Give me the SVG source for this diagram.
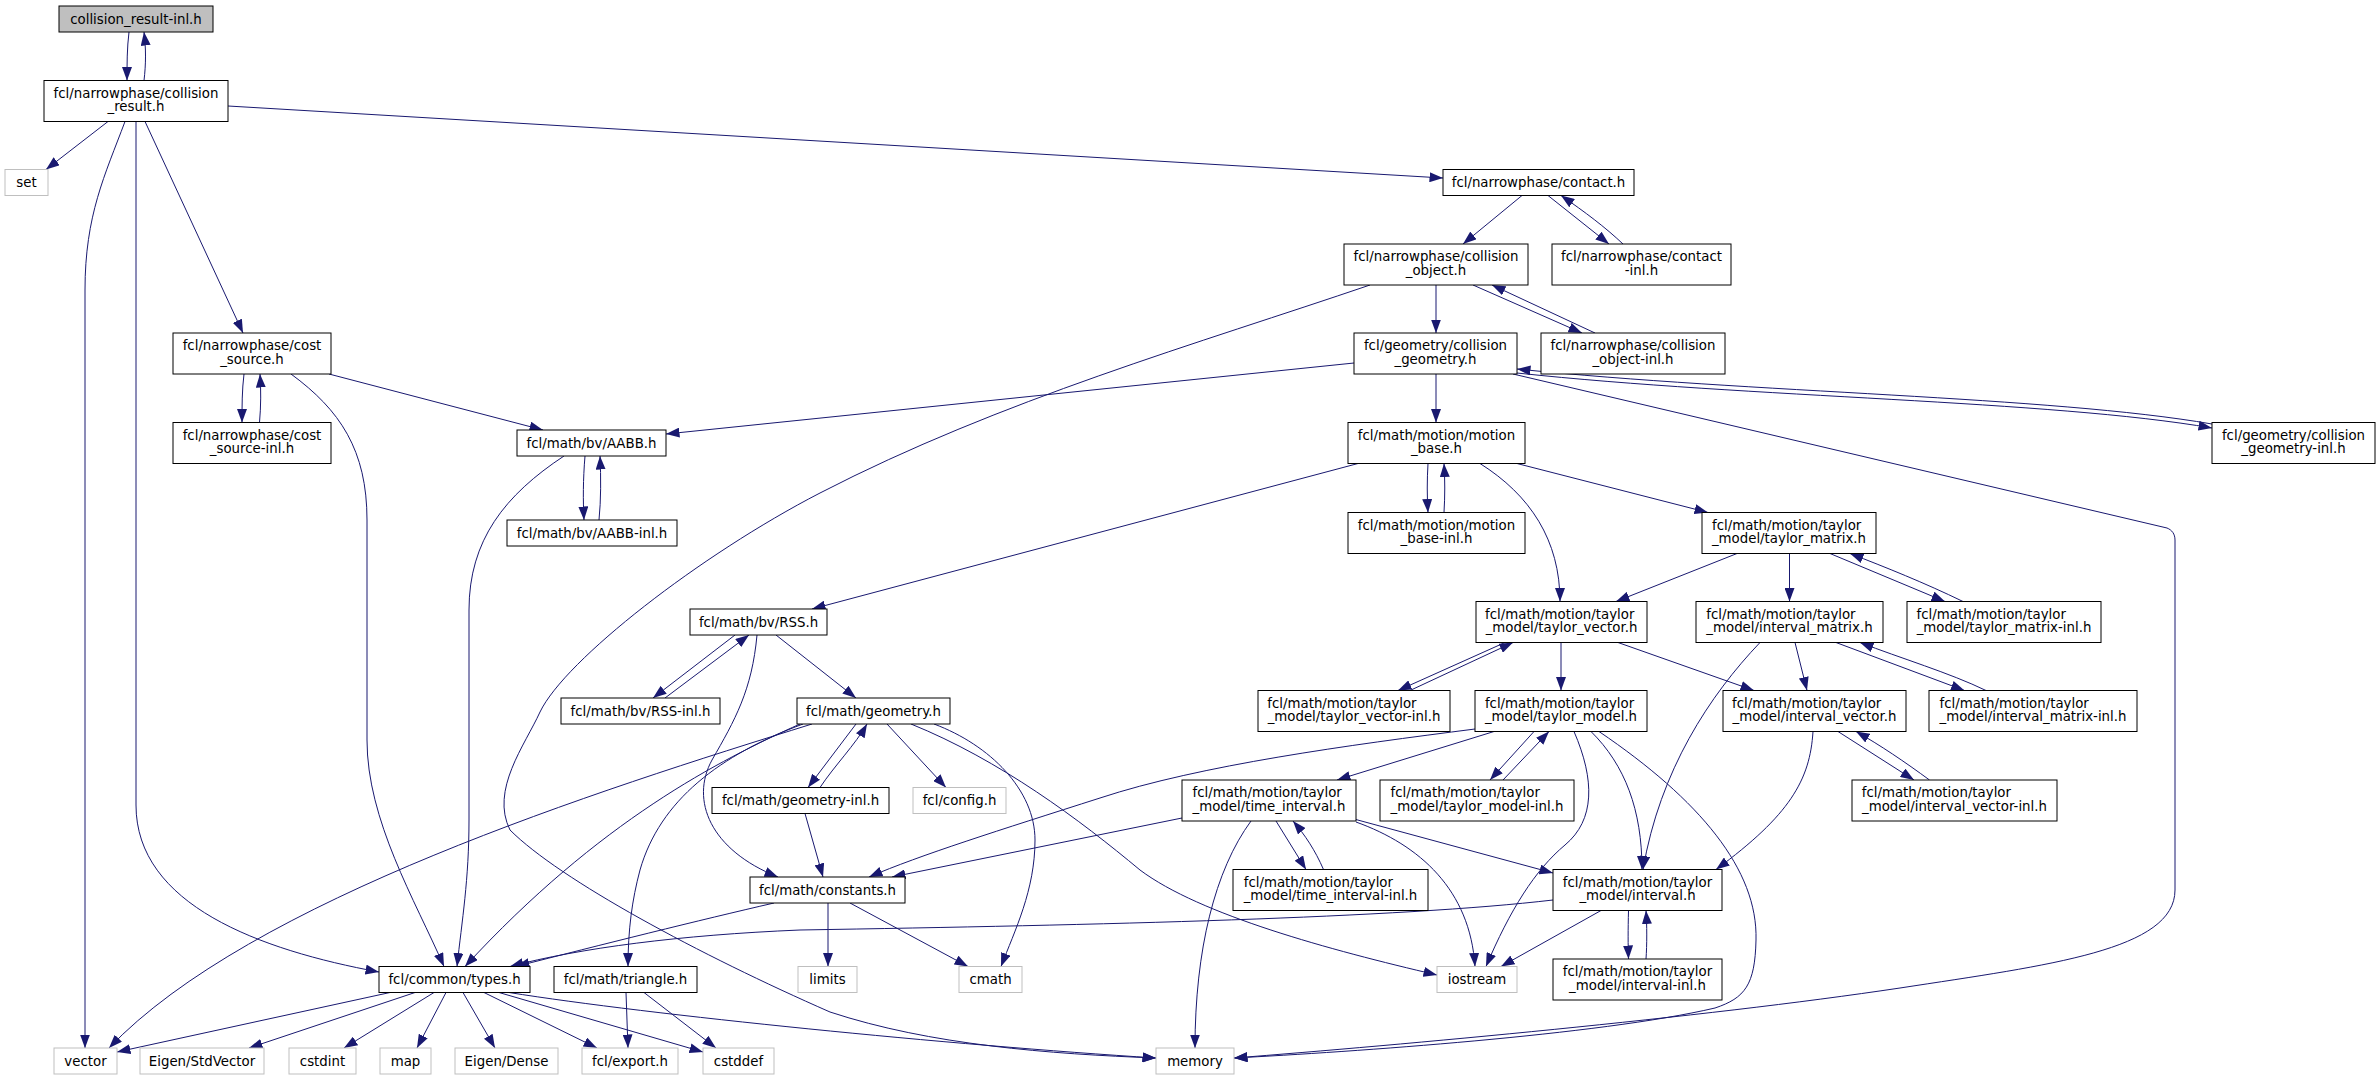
<svg xmlns="http://www.w3.org/2000/svg" width="2380" height="1080" viewBox="0 0 2380 1080">
<defs>
<style>
.node rect{fill:#ffffff;stroke:#000000;stroke-width:1}
.grey rect{stroke:#bfbfbf}
.top rect{fill:#bfbfbf}
text{font-family:"DejaVu Sans","Liberation Sans",sans-serif;font-size:13.33px;fill:#000000}
.c{text-anchor:middle}
.edges path{fill:none;stroke:#191970;stroke-width:1;marker-end:url(#ah)}
</style>
<marker id="ah" viewBox="0 0 14 10" refX="13.5" refY="5" markerWidth="14" markerHeight="10" markerUnits="userSpaceOnUse" orient="auto"><path d="M0,0 L13.5,5 L0,10 z" fill="#191970" stroke="none"/></marker>
</defs>
<rect x="0" y="0" width="2380" height="1080" fill="#ffffff"/>
<g class="edges">
<path d="M129,32 C127,48 127,64 127,80.5"/>
<path d="M144,80.5 C146,64 146,48 144,32"/>
<path d="M108,121.5 L46,169.5"/>
<path d="M125,121.5 C105,175 85,215 85,290 L85,1048"/>
<path d="M136,121.5 L136,805 C136,905 260,950 379,972"/>
<path d="M145,121.5 L243,333"/>
<path d="M228,106 L1443,178"/>
<path d="M1522,195.5 L1463,244"/>
<path d="M1548,195.5 L1609,244"/>
<path d="M1623,244 C1605,227 1585,212 1561,195.5"/>
<path d="M1436,285 L1436,333"/>
<path d="M1473,285 L1582,333"/>
<path d="M1595,333 L1492,285"/>
<path d="M1370,285 C1200,343 1000,400 820,493 C700,555 565,660 540,712 C525,745 490,790 510,830 C560,880 700,955 830,1012 C930,1045 1050,1054 1156,1058"/>
<path d="M1354,363 L666,434"/>
<path d="M1436,374 L1436,422.5"/>
<path d="M1517,373 C1750,398 2050,400 2212,428"/>
<path d="M2212,424 C2050,396 1750,393 1517,369"/>
<path d="M1513,374 L2167,528 C2172,530 2175,534 2175,540 L2175,890 C2175,950 2050,965 1900,988 C1700,1018 1400,1045 1234,1058"/>
<path d="M1358,463.5 L812,609"/>
<path d="M1428,463.5 C1427,480 1427,496 1428,512.5"/>
<path d="M1444,512.5 C1445,496 1445,480 1444,463.5"/>
<path d="M1480,463.5 C1530,495 1560,540 1560,601.5"/>
<path d="M1517,463.5 L1708,512.5"/>
<path d="M1737,553.5 L1616,601.5"/>
<path d="M1789.5,553.5 L1789.5,601.5"/>
<path d="M1830,553.5 L1945,601.5"/>
<path d="M1963,601.5 C1925,583 1885,567 1850,553.5"/>
<path d="M1795,642.5 L1807,690.5"/>
<path d="M1836,642.5 L1964.5,690.5"/>
<path d="M1986,690.5 C1950,673 1900,658 1860,642.5"/>
<path d="M1760,642.5 C1710,695 1660,770 1643,869.5"/>
<path d="M1838,731.5 L1914,780"/>
<path d="M1929.5,780 C1905,762 1880,745 1856,731.5"/>
<path d="M1813,731.5 C1810,780 1790,815 1716,869.5"/>
<path d="M1505,642.5 L1398,690.5"/>
<path d="M1410,690.5 L1513,642.5"/>
<path d="M1561,642.5 L1561,690.5"/>
<path d="M1618,642.5 L1754,690.5"/>
<path d="M1494,731.5 L1337,780"/>
<path d="M1534,731.5 L1490,780"/>
<path d="M1503,780 L1549,731.5"/>
<path d="M1574,731.5 C1595,780 1595,820 1565,845 C1535,870 1510,910 1486,966.5"/>
<path d="M1591,731.5 C1625,765 1642,810 1642,869.5"/>
<path d="M1599,731.5 C1700,800 1758,870 1756,940 C1755,985 1745,998 1715,1008 C1600,1035 1350,1052 1234,1058"/>
<path d="M1475,729 C1350,745 1200,765 1100,798 C1000,830 920,855 869,877"/>
<path d="M1182,818 L892,877"/>
<path d="M1276,821 L1306,869.5"/>
<path d="M1323.5,869.5 C1315,850 1305,835 1293,821"/>
<path d="M1356,822 C1420,845 1470,890 1475,966.5"/>
<path d="M1354,819 L1553,873"/>
<path d="M1251,821 C1215,870 1195,950 1195,1048"/>
<path d="M1553,900 C1400,918 1100,925 800,930 C680,935 580,948 510,966.5"/>
<path d="M1601,910.5 L1501,966.5"/>
<path d="M1628.5,910.5 C1628,930 1628,945 1628.5,959"/>
<path d="M1646,959 C1647,945 1647,925 1646,910.5"/>
<path d="M774,903 C700,920 600,945 516,966.5"/>
<path d="M828,903 L828,966.5"/>
<path d="M850,903 L968,966.5"/>
<path d="M805,813.5 L823,877"/>
<path d="M626,992.5 L628,1048"/>
<path d="M644,992.5 L716,1048"/>
<path d="M390,992.5 L117,1052"/>
<path d="M415,992.5 L249,1048"/>
<path d="M434,992.5 L344,1048"/>
<path d="M446,992.5 L417,1048"/>
<path d="M463,992.5 L495,1048"/>
<path d="M484,992.5 L597,1048"/>
<path d="M499,992.5 L703,1052"/>
<path d="M509,992.5 C650,1015 950,1045 1156,1058"/>
<path d="M735,635 L653,698"/>
<path d="M665,698 L749,635"/>
<path d="M776,635 L856,698"/>
<path d="M757,635 C752,690 735,720 712,760 C690,800 710,850 778,877"/>
<path d="M856,724 L808,787.5"/>
<path d="M820,787.5 C835,765 855,745 867,724"/>
<path d="M887,724 L946,787.5"/>
<path d="M934,724 C990,745 1035,790 1035,840 C1035,890 1015,930 1001,966.5"/>
<path d="M911,724 C1000,760 1080,820 1140,870 C1200,915 1330,950 1437,975"/>
<path d="M803,724 C720,755 660,800 640,870 C632,900 628,930 628,966.5"/>
<path d="M800,724 C720,760 600,820 465,966.5"/>
<path d="M812,724 C600,790 250,900 109,1048"/>
<path d="M585,456 C583,480 583,500 584,520"/>
<path d="M599,520 C601,500 601,478 600,456"/>
<path d="M564,456 C505,495 469,540 469,610 L469,820 C469,880 462,920 457,966.5"/>
<path d="M244,374 C242,390 242,406 242,422.5"/>
<path d="M259.5,422.5 C261,406 261,390 260,374"/>
<path d="M329,374 L543,430"/>
<path d="M291,374 C340,410 367,450 367,520 L367,740 C367,820 415,900 444,966.5"/>
</g>
<g id="n1" class="node top"><rect x="59" y="6" width="154" height="26"/><text class="c" x="136" y="23.5">collision_result-inl.h</text></g>
<g id="n2" class="node"><rect x="44" y="80.5" width="184" height="41"/><text class="c" x="136" y="97.5">fcl/narrowphase/collision</text><text class="c" x="136" y="111.3">_result.h</text></g>
<g id="n3" class="node grey"><rect x="5" y="169.5" width="43" height="26"/><text class="c" x="26.5" y="187">set</text></g>
<g id="n4" class="node"><rect x="1443" y="169.5" width="191" height="26"/><text class="c" x="1538.5" y="187">fcl/narrowphase/contact.h</text></g>
<g id="n5" class="node"><rect x="1344" y="244" width="184" height="41"/><text class="c" x="1436" y="261">fcl/narrowphase/collision</text><text class="c" x="1436" y="274.8">_object.h</text></g>
<g id="n6" class="node"><rect x="1552" y="244" width="179" height="41"/><text class="c" x="1641.5" y="261">fcl/narrowphase/contact</text><text class="c" x="1641.5" y="274.8">-inl.h</text></g>
<g id="n7" class="node"><rect x="173" y="333" width="158" height="41"/><text class="c" x="252" y="350">fcl/narrowphase/cost</text><text class="c" x="252" y="363.8">_source.h</text></g>
<g id="n8" class="node"><rect x="1354" y="333" width="163" height="41"/><text class="c" x="1435.5" y="350">fcl/geometry/collision</text><text class="c" x="1435.5" y="363.8">_geometry.h</text></g>
<g id="n9" class="node"><rect x="1541" y="333" width="184" height="41"/><text class="c" x="1633" y="350">fcl/narrowphase/collision</text><text class="c" x="1633" y="363.8">_object-inl.h</text></g>
<g id="n10" class="node"><rect x="173" y="422.5" width="158" height="41"/><text class="c" x="252" y="439.5">fcl/narrowphase/cost</text><text class="c" x="252" y="453.3">_source-inl.h</text></g>
<g id="n11" class="node"><rect x="517" y="430" width="149" height="26"/><text class="c" x="591.5" y="447.5">fcl/math/bv/AABB.h</text></g>
<g id="n12" class="node"><rect x="1348" y="422.5" width="177" height="41"/><text class="c" x="1436.5" y="439.5">fcl/math/motion/motion</text><text class="c" x="1436.5" y="453.3">_base.h</text></g>
<g id="n13" class="node"><rect x="2212" y="422.5" width="163" height="41"/><text class="c" x="2293.5" y="439.5">fcl/geometry/collision</text><text class="c" x="2293.5" y="453.3">_geometry-inl.h</text></g>
<g id="n14" class="node"><rect x="507" y="520" width="170" height="26"/><text class="c" x="592" y="537.5">fcl/math/bv/AABB-inl.h</text></g>
<g id="n15" class="node"><rect x="1348" y="512.5" width="177" height="41"/><text class="c" x="1436.5" y="529.5">fcl/math/motion/motion</text><text class="c" x="1436.5" y="543.3">_base-inl.h</text></g>
<g id="n16" class="node"><rect x="1702" y="512.5" width="174" height="41"/><text x="1712" y="529.5">fcl/math/motion/taylor</text><text class="c" x="1789" y="543.3">_model/taylor_matrix.h</text></g>
<g id="n17" class="node"><rect x="690" y="609" width="137" height="26"/><text class="c" x="758.5" y="626.5">fcl/math/bv/RSS.h</text></g>
<g id="n18" class="node"><rect x="1476" y="601.5" width="171" height="41"/><text x="1485.1" y="618.5">fcl/math/motion/taylor</text><text class="c" x="1561.5" y="632.3">_model/taylor_vector.h</text></g>
<g id="n19" class="node"><rect x="1696" y="601.5" width="187" height="41"/><text x="1706.3" y="618.5">fcl/math/motion/taylor</text><text class="c" x="1789.5" y="632.3">_model/interval_matrix.h</text></g>
<g id="n20" class="node"><rect x="1907" y="601.5" width="194" height="41"/><text x="1916.6" y="618.5">fcl/math/motion/taylor</text><text class="c" x="2004" y="632.3">_model/taylor_matrix-inl.h</text></g>
<g id="n21" class="node"><rect x="561" y="698" width="159" height="26"/><text class="c" x="640.5" y="715.5">fcl/math/bv/RSS-inl.h</text></g>
<g id="n22" class="node"><rect x="797" y="698" width="153" height="26"/><text class="c" x="873.5" y="715.5">fcl/math/geometry.h</text></g>
<g id="n23" class="node"><rect x="1258" y="690.5" width="192" height="41"/><text x="1267.3" y="707.5">fcl/math/motion/taylor</text><text class="c" x="1354" y="721.3">_model/taylor_vector-inl.h</text></g>
<g id="n24" class="node"><rect x="1475" y="690.5" width="172" height="41"/><text x="1484.9" y="707.5">fcl/math/motion/taylor</text><text class="c" x="1561" y="721.3">_model/taylor_model.h</text></g>
<g id="n25" class="node"><rect x="1723" y="690.5" width="183" height="41"/><text x="1732" y="707.5">fcl/math/motion/taylor</text><text class="c" x="1814.5" y="721.3">_model/interval_vector.h</text></g>
<g id="n26" class="node"><rect x="1929" y="690.5" width="208" height="41"/><text x="1939.5" y="707.5">fcl/math/motion/taylor</text><text class="c" x="2033" y="721.3">_model/interval_matrix-inl.h</text></g>
<g id="n27" class="node"><rect x="1182" y="780" width="174" height="41"/><text x="1192.5" y="797">fcl/math/motion/taylor</text><text class="c" x="1269" y="810.8">_model/time_interval.h</text></g>
<g id="n28" class="node"><rect x="1380" y="780" width="194" height="41"/><text x="1390.6" y="797">fcl/math/motion/taylor</text><text class="c" x="1477" y="810.8">_model/taylor_model-inl.h</text></g>
<g id="n29" class="node"><rect x="1852" y="780" width="205" height="41"/><text x="1861.7" y="797">fcl/math/motion/taylor</text><text class="c" x="1954.5" y="810.8">_model/interval_vector-inl.h</text></g>
<g id="n30" class="node"><rect x="712" y="787.5" width="177" height="26"/><text class="c" x="800.5" y="805">fcl/math/geometry-inl.h</text></g>
<g id="n31" class="node grey"><rect x="913" y="787.5" width="93" height="26"/><text class="c" x="959.5" y="805">fcl/config.h</text></g>
<g id="n32" class="node"><rect x="750" y="877" width="155" height="26"/><text class="c" x="827.5" y="894.5">fcl/math/constants.h</text></g>
<g id="n33" class="node"><rect x="1233" y="869.5" width="195" height="41"/><text x="1243.7" y="886.5">fcl/math/motion/taylor</text><text class="c" x="1330.5" y="900.3">_model/time_interval-inl.h</text></g>
<g id="n34" class="node"><rect x="1553" y="869.5" width="169" height="41"/><text class="c" x="1637.5" y="886.5">fcl/math/motion/taylor</text><text class="c" x="1637.5" y="900.3">_model/interval.h</text></g>
<g id="n35" class="node"><rect x="379" y="966.5" width="151" height="26"/><text class="c" x="454.5" y="984">fcl/common/types.h</text></g>
<g id="n36" class="node"><rect x="554" y="966.5" width="143" height="26"/><text class="c" x="625.5" y="984">fcl/math/triangle.h</text></g>
<g id="n37" class="node grey"><rect x="798" y="966.5" width="59" height="26"/><text class="c" x="827.5" y="984">limits</text></g>
<g id="n38" class="node grey"><rect x="959" y="966.5" width="63" height="26"/><text class="c" x="990.5" y="984">cmath</text></g>
<g id="n39" class="node grey"><rect x="1437" y="966.5" width="80" height="26"/><text class="c" x="1477" y="984">iostream</text></g>
<g id="n40" class="node"><rect x="1553" y="959" width="169" height="41"/><text class="c" x="1637.5" y="976">fcl/math/motion/taylor</text><text class="c" x="1637.5" y="989.8">_model/interval-inl.h</text></g>
<g id="n41" class="node grey"><rect x="54" y="1048" width="63" height="26"/><text class="c" x="85.5" y="1065.5">vector</text></g>
<g id="n42" class="node grey"><rect x="140" y="1048" width="124" height="26"/><text class="c" x="202" y="1065.5">Eigen/StdVector</text></g>
<g id="n43" class="node grey"><rect x="289" y="1048" width="67" height="26"/><text class="c" x="322.5" y="1065.5">cstdint</text></g>
<g id="n44" class="node grey"><rect x="380" y="1048" width="51" height="26"/><text class="c" x="405.5" y="1065.5">map</text></g>
<g id="n45" class="node grey"><rect x="455" y="1048" width="103" height="26"/><text class="c" x="506.5" y="1065.5">Eigen/Dense</text></g>
<g id="n46" class="node grey"><rect x="582" y="1048" width="96" height="26"/><text class="c" x="630" y="1065.5">fcl/export.h</text></g>
<g id="n47" class="node grey"><rect x="703" y="1048" width="71" height="26"/><text class="c" x="738.5" y="1065.5">cstddef</text></g>
<g id="n48" class="node grey"><rect x="1156" y="1048" width="78" height="26"/><text class="c" x="1195" y="1065.5">memory</text></g>
</svg>
